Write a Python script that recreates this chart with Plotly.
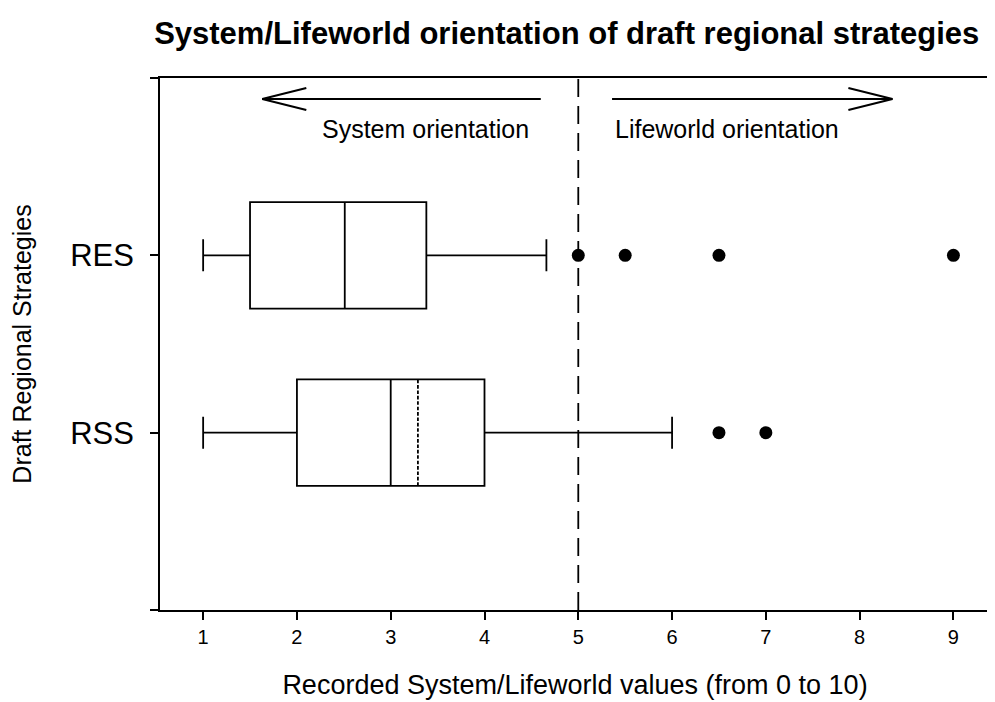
import plotly.graph_objects as go

# ---- data ----
categories = ["RSS", "RES"]
cat_pos = [0, 1]
lower_whisker = [1.0, 1.0]
q1_vals = [2.0, 1.5]
median_vals = [3.0, 2.51]
q3_vals = [4.0, 3.38]
upper_whisker = [6.0, 4.66]
rss_mean = 3.29
res_outliers = [5.0, 5.5, 6.5, 9.0]
rss_outliers = [6.5, 7.0]
x_ticks = [1, 2, 3, 4, 5, 6, 7, 8, 9]
threshold = 5

FONT = "Arial, Liberation Sans, sans-serif"
LW = 1.8

fig = go.Figure()

# RSS box (with mean)
fig.add_trace(go.Box(
    orientation="h", y=[cat_pos[0]],
    lowerfence=[lower_whisker[0]], q1=[q1_vals[0]], median=[median_vals[0]],
    q3=[q3_vals[0]], upperfence=[upper_whisker[0]], mean=[rss_mean],
    boxmean=True, width=0.6, whiskerwidth=0.3,
    line=dict(color="black", width=LW), fillcolor="white",
    boxpoints=False, showlegend=False, hoverinfo="skip"))

# RES box
fig.add_trace(go.Box(
    orientation="h", y=[cat_pos[1]],
    lowerfence=[lower_whisker[1]], q1=[q1_vals[1]], median=[median_vals[1]],
    q3=[q3_vals[1]], upperfence=[upper_whisker[1]],
    width=0.6, whiskerwidth=0.3,
    line=dict(color="black", width=LW), fillcolor="white",
    boxpoints=False, showlegend=False, hoverinfo="skip"))

# outliers
fig.add_trace(go.Scatter(
    x=res_outliers + rss_outliers,
    y=[cat_pos[1]] * len(res_outliers) + [cat_pos[0]] * len(rss_outliers),
    mode="markers", marker=dict(color="black", size=13, symbol="circle"),
    showlegend=False, hoverinfo="skip"))

# dashed threshold line
fig.add_shape(type="line", x0=threshold, x1=threshold, y0=0, y1=1,
              xref="x", yref="paper",
              line=dict(color="black", width=LW, dash="18px,9px"))

# arrows (open V heads)
arrow_y = 1.882
head_dy = 0.062
lw = 2
# left arrow
fig.add_shape(type="line", x0=4.6, x1=1.63, y0=arrow_y, y1=arrow_y, line=dict(color="black", width=lw))
fig.add_shape(type="line", x0=1.63, x1=2.10, y0=arrow_y, y1=arrow_y + head_dy, line=dict(color="black", width=lw))
fig.add_shape(type="line", x0=1.63, x1=2.10, y0=arrow_y, y1=arrow_y - head_dy, line=dict(color="black", width=lw))
# right arrow
fig.add_shape(type="line", x0=5.36, x1=8.35, y0=arrow_y, y1=arrow_y, line=dict(color="black", width=lw))
fig.add_shape(type="line", x0=8.35, x1=7.88, y0=arrow_y, y1=arrow_y + head_dy, line=dict(color="black", width=lw))
fig.add_shape(type="line", x0=8.35, x1=7.88, y0=arrow_y, y1=arrow_y - head_dy, line=dict(color="black", width=lw))

fig.add_annotation(x=3.37, y=1.71, text="System orientation", showarrow=False,
                   font=dict(family=FONT, size=25, color="black"))
fig.add_annotation(x=5.37, y=1.71, text="Lifeworld orientation", showarrow=False,
                   xanchor="left", font=dict(family=FONT, size=25, color="black"))

# page body has an 8px default margin, so figure is 8px smaller and margins shifted
fig.update_layout(
    width=987, height=694,
    margin=dict(l=152, r=5, t=70, b=92, autoexpand=False),
    paper_bgcolor="white", plot_bgcolor="white",
    font=dict(family=FONT, color="black"),
    title=dict(text="<b>System/Lifeworld orientation of draft regional strategies</b>",
               x=0.49, xanchor="center", xref="paper", y=1 - 25 / 694, yref="container",
               yanchor="middle",
               font=dict(family=FONT, size=31, color="black")),
    xaxis=dict(range=[0.54, 9.39], tickvals=x_ticks, ticktext=[str(t) for t in x_ticks],
               ticks="outside", ticklen=8, tickcolor="black", tickwidth=LW,
               showline=True, linecolor="black", linewidth=LW, mirror=True,
               showgrid=False, zeroline=False, automargin=False,
               tickfont=dict(size=20),
               title=dict(text="Recorded System/Lifeworld values (from 0 to 10)",
                          font=dict(size=27), standoff=28)),
    yaxis=dict(range=[-1, 2], tickvals=[-1] + cat_pos + [2], ticktext=[""] + categories + [""],
               ticks="outside", ticklen=8, tickcolor="black", tickwidth=LW,
               showline=True, linecolor="black", linewidth=LW, mirror=True,
               showgrid=False, zeroline=False, automargin=False,
               ticklabelstandoff=10,
               tickfont=dict(size=31),
               title=dict(text="Draft Regional Strategies", font=dict(size=25), standoff=34)),
)

fig.write_html("out.html")
